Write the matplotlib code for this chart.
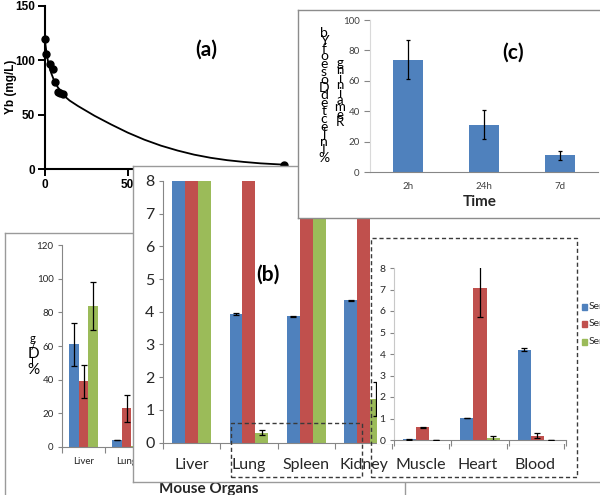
import matplotlib
matplotlib.use("Agg")
import matplotlib.pyplot as plt
from matplotlib.patches import Rectangle
import numpy as np

# ---------------- data ----------------
# Panel (a): blood Yb concentration vs time (h)
pk_time = [0, 1, 3, 5, 6, 8, 9, 11, 144]
pk_yb = [120, 106, 97, 92, 80, 71, 70, 69, 4]
fit_time = [0, 1, 2, 3, 4, 5, 6, 8, 10, 12, 15, 20, 25, 30, 40, 50, 60, 70, 80,
            90, 100, 110, 120, 130, 144]
fit_yb = [120, 108, 99, 93, 88, 84, 80, 75, 71, 67, 63, 58, 53.5, 49, 41, 33.5,
          27, 21.5, 17, 13.2, 10.3, 8.1, 6.5, 5.2, 4.0]
a_yticks = [0, 50, 100, 150]
a_xticks = [0, 50]

# Panel (b): biodistribution (%ID/g)
organs = ["Liver", "Lung", "Spleen", "Kidney", "Muscle", "Heart", "Blood"]
series_names = ["Series1", "Series2", "Series3"]
s1 = [61, 3.92, 3.86, 4.35, 0.03, 1.02, 4.2]
s1_err = [12.8, 0.03, 0.01, 0.02, 0.01, 0.01, 0.08]
s2 = [39, 23, 14, 12, 0.6, 7.06, 0.19]
s2_err = [9.8, 8, 0, 0, 0.02, 1.35, 0.12]
s3 = [84, 0.3, 9.5, 1.33, 0, 0.07, 0]
s3_err = [14.3, 0.08, 0, 0.53, 0, 0.1, 0]
bg_yticks = [0, 20, 40, 60, 80, 100, 120]
b_yticks = [0, 1, 2, 3, 4, 5, 6, 7, 8]

# Panel (c): remaining injected dose
c_times = ["2h", "24h", "7d"]
c_vals = [74, 31, 11]
c_err = [13, 9.5, 3]
c_yticks = [0, 20, 40, 60, 80, 100]

# ---------------- style ----------------
W, H = 600, 495
BLUE, RED, GREEN = "#4F81BD", "#C0504D", "#9BBB59"
COLORS = [BLUE, RED, GREEN]
AXGRAY = "#868686"
BOXGRAY = "#9a9a9a"
TXT = "#262626"
XL = "Lato"

fig = plt.figure(figsize=(6, 4.95), dpi=100)


def rect(x0, y0, x1, y1):
    return [x0 / W, 1 - y1 / H, (x1 - x0) / W, (y1 - y0) / H]


def ftext(ax, x, y, s, **kw):
    return ax.text(x / W, 1 - y / H, s, transform=fig.transFigure, **kw)


def box_axes(x0, y0, x1, y1, z, edge=BOXGRAY, lw=1.0, spines=True):
    bx = fig.add_axes(rect(x0, y0, x1, y1))
    bx.set_zorder(z)
    bx.set_facecolor("white")
    bx.set_xticks([])
    bx.set_yticks([])
    for sp in bx.spines.values():
        sp.set_visible(spines)
        sp.set_color(edge)
        sp.set_linewidth(lw)
    return bx


def excel_bars(ax, idx, width, fontsize_y, label_color=TXT):
    n = len(idx)
    for j, (vals, errs) in enumerate([(s1, s1_err), (s2, s2_err), (s3, s3_err)]):
        v = [vals[i] for i in idx]
        e = [errs[i] for i in idx]
        pos = np.arange(n) + (j - 1) * width
        ax.bar(pos, v, width=width, color=COLORS[j], zorder=2)
        ax.errorbar(pos, v, yerr=e, fmt="none", ecolor="black", elinewidth=0.9,
                    capsize=2, capthick=0.9, zorder=3)
    ax.set_xlim(-0.5, n - 0.5)
    ax.set_xticks(np.arange(n + 1) - 0.5)
    ax.set_xticklabels([])
    ax.tick_params(axis="x", which="major", length=4, color=AXGRAY, direction="out")
    ax.tick_params(axis="y", length=3, color=AXGRAY, labelsize=fontsize_y,
                   labelcolor=label_color, pad=3)
    for s in ["top", "right"]:
        ax.spines[s].set_visible(False)
    ax.spines["left"].set_color(AXGRAY)
    ax.spines["bottom"].set_color(AXGRAY)
    ax.patch.set_alpha(0)


# ---------------- panel (a) ----------------
ax_a = fig.add_axes(rect(44.7, 6, 44.7 + 150 * 1.66, 169))
ax_a.set_zorder(1)
ax_a.plot(fit_time, fit_yb, color="black", lw=1.3, zorder=2)
ax_a.plot(pk_time, pk_yb, "o", color="black", ms=5, clip_on=False, zorder=3)
ax_a.set_xlim(0, 150)
ax_a.set_ylim(0, 150)
ax_a.set_yticks(a_yticks)
ax_a.set_xticks(a_xticks)
for s in ["top", "right"]:
    ax_a.spines[s].set_visible(False)
for s in ["left", "bottom"]:
    ax_a.spines[s].set_linewidth(1.5)
ax_a.tick_params(length=5, width=1.4, labelsize=8.5, pad=2)
for lab in ax_a.get_xticklabels() + ax_a.get_yticklabels():
    lab.set_fontweight("bold")
    lab.set_family("Liberation Sans")
ftext(ax_a, 11, 87, "Yb (mg/L)", fontsize=8.5, fontweight="bold",
      family="Liberation Sans", rotation=90, ha="center", va="center")
ftext(ax_a, 206, 50, "(a)", fontsize=15, fontweight="bold", family=XL,
      ha="center", va="center")

# ---------------- background biodistribution chart (%ID/g) ----------------
ax_bgbox = box_axes(5, 233, 405, 540, 2)
ax_bg = fig.add_axes(rect(62, 245, 363, 447))
ax_bg.set_zorder(3)
excel_bars(ax_bg, list(range(7)), 0.22, 7)
ax_bg.set_ylim(0, 120)
ax_bg.set_yticks(bg_yticks)
for lab in ax_bg.get_yticklabels():
    lab.set_family(XL)
# only the first two organ labels of this chart peek out from behind panel (b)
for i, name in enumerate(organs[:2]):
    ftext(ax_bg, 62 + 43 * (i + 0.5), 462, name, fontsize=7, family=XL,
          color=TXT, ha="center", va="center")
for k, ch in enumerate(["g", "/", "D", "I", "%"]):
    ftext(ax_bg, 33, 338 + 8 * k, ch, fontsize=11 if ch in "D%" else 8,
          family=XL, color="black", ha="center", va="center")
ftext(ax_bg, 209, 493, "Mouse Organs", fontsize=11, fontweight="bold",
      family=XL, color=TXT, ha="center", va="baseline")

# ---------------- panel (b) ----------------
ax_bbox = box_axes(133, 166, 620, 482, 4)
ax_b = fig.add_axes(rect(163, 181, 564, 442.5))
ax_b.set_zorder(5)
excel_bars(ax_b, list(range(7)), 0.225, 11.5)
ax_b.set_ylim(0, 8)
ax_b.set_yticks(b_yticks)
for lab in ax_b.get_yticklabels():
    lab.set_family(XL)
cat_w = (564 - 163) / 7
for i, name in enumerate(organs):
    ftext(ax_b, 163 + cat_w * (i + 0.5), 465, name, fontsize=11.5, family=XL,
          color=TXT, ha="center", va="center")
ftext(ax_b, 268, 275, "(b)", fontsize=15, fontweight="bold", family=XL,
      ha="center", va="center")
# legend (clipped at the right edge of the figure)
for j, (name, ypx) in enumerate(zip(series_names, [306.5, 324, 341.5])):
    ax_bbox.add_patch(Rectangle((581.5 / W, 1 - (ypx + 3) / H), 5.5 / W, 6 / H,
                                transform=fig.transFigure, color=COLORS[j],
                                clip_on=False))
    ftext(ax_bbox, 589, ypx, name, fontsize=7.5, family=XL, color=TXT,
          ha="left", va="center")

# inset (zoom on Muscle / Heart / Blood) on a white card
ax_ipatch = box_axes(377, 214, 577, 444, 6, spines=False)
ax_in = fig.add_axes(rect(394, 268, 566, 440))
ax_in.set_zorder(7)
excel_bars(ax_in, [4, 5, 6], 0.23, 7.5)
ax_in.set_ylim(0, 8)
ax_in.set_yticks(b_yticks)
ax_in.spines["left"].set_color("#c8c8c8")
for lab in ax_in.get_yticklabels():
    lab.set_family(XL)

# dashed zoom frames
for (x0, y0, x1, y1) in [(371, 238, 577, 477), (231, 423, 362, 477)]:
    ax_in.add_patch(Rectangle((x0 / W, 1 - y1 / H), (x1 - x0) / W, (y1 - y0) / H,
                              transform=fig.transFigure, fill=False,
                              edgecolor="#3a3a3a", lw=1.0,
                              linestyle=(0, (3, 2)), clip_on=False))

# ---------------- panel (c) ----------------
ax_cbox = box_axes(297.7, 10, 640, 218, 9, edge="#8c8c8c")
ax_c = fig.add_axes(rect(370, 20, 598, 172))
ax_c.set_zorder(10)
xc = np.arange(len(c_times))
ax_c.bar(xc, c_vals, width=0.4, color=BLUE, zorder=2)
ax_c.errorbar(xc, c_vals, yerr=c_err, fmt="none", ecolor="black",
              elinewidth=0.9, capsize=1.5, capthick=0.9, zorder=3)
ax_c.set_xlim(-0.5, 2.5)
ax_c.set_ylim(0, 100)
ax_c.set_yticks(c_yticks)
ax_c.set_xticks([])
for s in ["top", "right"]:
    ax_c.spines[s].set_visible(False)
ax_c.spines["left"].set_color("#d9d9d9")
ax_c.spines["bottom"].set_color(AXGRAY)
ax_c.tick_params(axis="y", length=4, color=AXGRAY, labelsize=7, labelcolor="#404040")
for lab in ax_c.get_yticklabels():
    lab.set_family(XL)
ax_c.patch.set_alpha(0)
for i, name in enumerate(c_times):
    ftext(ax_c, 370 + 76 * (i + 0.5), 186.5, name, fontsize=7, family=XL,
          color="#404040", ha="center", va="center")
ftext(ax_c, 480, 202, "Time", fontsize=11, fontweight="bold", family=XL,
      color=TXT, ha="center", va="center")
ftext(ax_c, 513, 53, "(c)", fontsize=15, fontweight="bold", family=XL,
      ha="center", va="center")
col1 = list("bYfoesoDdetcejnI%")
col2 = list("gniniameR")
for k, ch in enumerate(col1):
    ftext(ax_c, 324, 33 + 7.8 * k, ch, fontsize=10, family=XL, color="black",
          ha="center", va="center")
for k, ch in enumerate(col2):
    ftext(ax_c, 340, 63 + 7.4 * k, ch, fontsize=9.5, family=XL, color="black",
          ha="center", va="center")

fig.savefig("out.png", dpi=100)
